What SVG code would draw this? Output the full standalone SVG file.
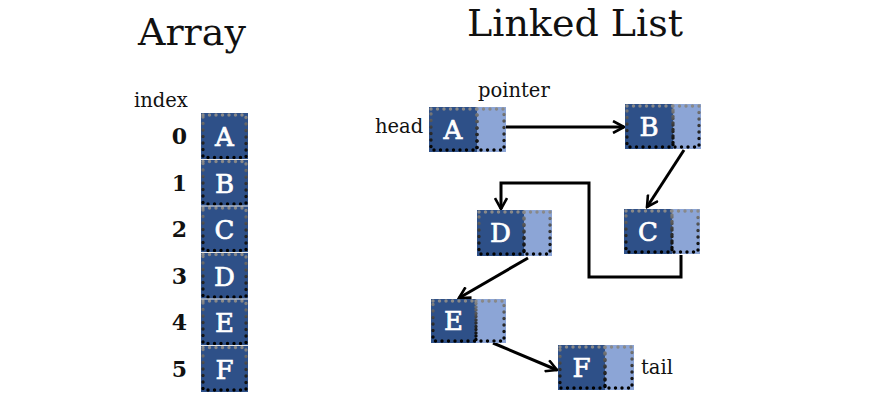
<svg xmlns="http://www.w3.org/2000/svg" width="886" height="412" viewBox="0 0 886 412">
<defs>
<linearGradient id="dotg" x1="0" y1="0" x2="0" y2="1">
<stop offset="0" stop-color="#8a8a8a"/>
<stop offset="0.5" stop-color="#333"/>
<stop offset="1" stop-color="#000"/>
</linearGradient>
<marker id="ah" viewBox="0 0 14 14" refX="12" refY="7" markerWidth="14" markerHeight="14" markerUnits="userSpaceOnUse" orient="auto">
<path d="M1,1 L12,7 L1,13" fill="none" stroke="#000" stroke-width="2.6" stroke-linejoin="miter"/>
</marker>
</defs>
<style>
text{font-family:"DejaVu Serif","Liberation Serif",serif;fill:#111}
.title{font-size:38px}
.lbl{font-size:19.5px}
.num{font-size:22px;font-weight:bold;text-anchor:end}
.dk{fill:#2e5088}
.lt{fill:#8ca5d6}
.sep{fill:none;stroke:#e8e8e8;stroke-width:1}
.dots{fill:none;stroke:url(#dotg);stroke-width:3.4;stroke-dasharray:0 6.5;stroke-linecap:round}
.let{fill:#fff;stroke:#fff;stroke-width:0.7;font-size:26px;text-anchor:middle}
.conn{fill:none;stroke:#000;stroke-width:3;marker-end:url(#ah)}
</style>
<rect width="886" height="412" fill="#fff"/>
<text class="title" x="138" y="45">Array</text>
<text class="title" x="467" y="36">Linked List</text>
<text class="lbl" x="134" y="107">index</text>

<g id="array">
<g id="arr-0"><text class="num" x="187" y="144">0</text><rect class="dk" x="201" y="113" width="47" height="46.5"/><rect class="dots" x="203" y="115" width="43" height="42.5"/><text class="let" x="224.5" y="146">A</text></g>
<g id="arr-1"><text class="num" x="187" y="190.5">1</text><rect class="dk" x="201" y="159.5" width="47" height="46.5"/><rect class="dots" x="203" y="161.5" width="43" height="42.5"/><text class="let" x="224.5" y="192.5">B</text></g>
<g id="arr-2"><text class="num" x="187" y="237">2</text><rect class="dk" x="201" y="206" width="47" height="46.5"/><rect class="dots" x="203" y="208" width="43" height="42.5"/><text class="let" x="224.5" y="239">C</text></g>
<g id="arr-3"><text class="num" x="187" y="283.5">3</text><rect class="dk" x="201" y="252.5" width="47" height="46.5"/><rect class="dots" x="203" y="254.5" width="43" height="42.5"/><text class="let" x="224.5" y="285.5">D</text></g>
<g id="arr-4"><text class="num" x="187" y="330">4</text><rect class="dk" x="201" y="299" width="47" height="46.5"/><rect class="dots" x="203" y="301" width="43" height="42.5"/><text class="let" x="224.5" y="332">E</text></g>
<g id="arr-5"><text class="num" x="187" y="376.5">5</text><rect class="dk" x="201" y="345.5" width="47" height="46.5"/><rect class="dots" x="203" y="347.5" width="43" height="42.5"/><text class="let" x="224.5" y="378.5">F</text></g>
<path class="sep" d="M201,159.5 H248 M201,206 H248 M201,252.5 H248 M201,299 H248 M201,345.5 H248"/>
</g>

<text class="lbl" x="375" y="133">head</text>
<text class="lbl" x="478" y="97">pointer</text>
<text class="lbl" x="641" y="374">tail</text>

<g id="connectors">
<path class="conn" d="M506,127 L624,127"/>
<path class="conn" d="M684,150 L647,207"/>
<path class="conn" d="M681,255 V277 H589 V183 H501 V209"/>
<path class="conn" d="M528,258 L459,298"/>
<path class="conn" d="M493,343 L557,370"/>
</g>

<g id="node-A"><rect class="dk" x="429" y="107" width="48" height="45"/><rect class="lt" x="477" y="107" width="29" height="45"/><rect class="dots" x="431" y="109" width="46" height="41"/><rect class="dots" x="477" y="109" width="27" height="41"/><text class="let" x="453" y="139">A</text></g>
<g id="node-B"><rect class="dk" x="625" y="104" width="48" height="45"/><rect class="lt" x="673" y="104" width="28" height="45"/><rect class="dots" x="627" y="106" width="46" height="41"/><rect class="dots" x="673" y="106" width="26" height="41"/><text class="let" x="649" y="136">B</text></g>
<g id="node-C"><rect class="dk" x="624" y="209" width="48" height="45"/><rect class="lt" x="672" y="209" width="28" height="45"/><rect class="dots" x="626" y="211" width="46" height="41"/><rect class="dots" x="672" y="211" width="26" height="41"/><text class="let" x="648" y="241">C</text></g>
<g id="node-D"><rect class="dk" x="477" y="210" width="47" height="46"/><rect class="lt" x="524" y="210" width="28" height="46"/><rect class="dots" x="479" y="212" width="45" height="42"/><rect class="dots" x="524" y="212" width="26" height="42"/><text class="let" x="500.5" y="242">D</text></g>
<g id="node-E"><rect class="dk" x="431" y="299" width="45" height="44"/><rect class="lt" x="476" y="299" width="30" height="44"/><rect class="dots" x="433" y="301" width="43" height="40"/><rect class="dots" x="476" y="301" width="28" height="40"/><text class="let" x="453.5" y="330">E</text></g>
<g id="node-F"><rect class="dk" x="558" y="345" width="47" height="45"/><rect class="lt" x="605" y="345" width="29" height="45"/><rect class="dots" x="560" y="347" width="45" height="41"/><rect class="dots" x="605" y="347" width="27" height="41"/><text class="let" x="581.5" y="377">F</text></g>
</svg>
